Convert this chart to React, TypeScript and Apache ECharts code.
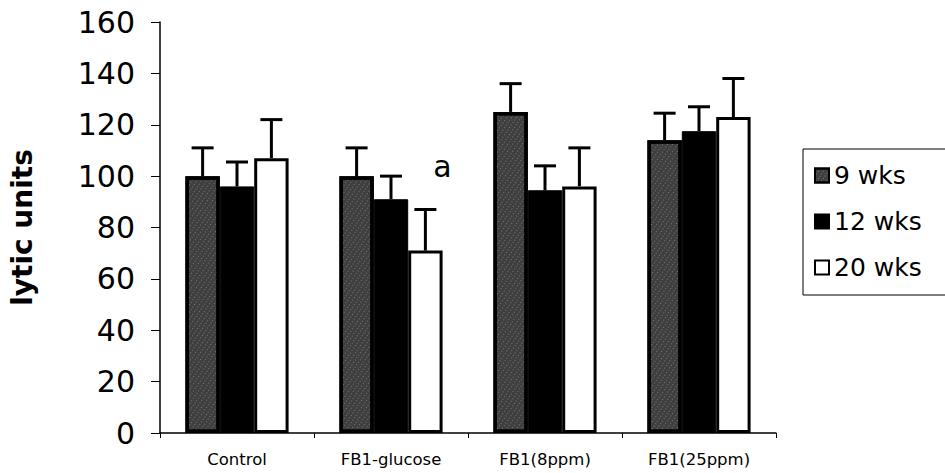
import React, { useEffect, useRef } from 'react';
import * as echarts from 'echarts';

const categories = ['Control', 'FB1-glucose', 'FB1(8ppm)', 'FB1(25ppm)'];
const seriesNames = ['9 wks', '12 wks', '20 wks'];
const means9 = [100, 100, 125, 114];
const means12 = [96, 91, 94.5, 117.5];
const means20 = [107, 71, 96, 123];
const err9 = [11, 11, 11, 10.5];
const err12 = [9.5, 9, 9.5, 9.5];
const err20 = [15, 16, 15, 15];
const yMin = 0;
const yMax = 160;
const yInterval = 20;
const annotations = [{ category: 'FB1-glucose', series: '20 wks', text: 'a' }];

const GAP = 0.33;
const FONT = '"DejaVu Sans", "Liberation Sans", Arial, sans-serif';

export default function App() {
  const ref = useRef<HTMLDivElement>(null);
  useEffect(() => {
    if (!ref.current) return;
    const chart = echarts.init(ref.current, undefined, { renderer: 'svg' });
    const means = [means9, means12, means20];
    const errs = [err9, err12, err20];
    const barStyles = [
      {
        color: '#3f3f3f',
        borderColor: '#000',
        borderWidth: 3.5,
        decal: {
          symbol: 'rect',
          symbolSize: 1,
          color: 'rgba(255,255,255,0.3)',
          dashArrayX: [1, 3],
          dashArrayY: [1, 2],
          rotation: 0.6,
        },
      },
      { color: '#000', borderColor: '#000', borderWidth: 1 },
      { color: '#fff', borderColor: '#000', borderWidth: 3 },
    ];
    const barSeries = seriesNames.map((name, i) => ({
      name,
      type: 'bar',
      data: means[i],
      barGap: '0%',
      barCategoryGap: '33%',
      itemStyle: barStyles[i],
      z: 2,
    }));
    const errSeries = seriesNames.map((name, si) => ({
      name: name + ' err',
      type: 'custom',
      z: 3,
      data: categories.map((c, ci) => [ci, means[si][ci], means[si][ci] + errs[si][ci]]),
      renderItem: (params: any, api: any) => {
        const cat = api.value(0);
        const mean = api.value(1);
        const top = api.value(2);
        const catW = api.size([1, 0])[0];
        const barW = (catW * (1 - GAP)) / 3;
        const cx = api.coord([cat, 0])[0] + (si - 1) * barW;
        const yMean = api.coord([cat, mean])[1];
        const yTop = api.coord([cat, top])[1];
        const st = { stroke: '#000', lineWidth: 3 };
        const children: any[] = [
          { type: 'line', shape: { x1: cx, y1: yMean, x2: cx, y2: yTop }, style: st },
          { type: 'line', shape: { x1: cx - 11, y1: yTop, x2: cx + 11, y2: yTop }, style: st },
        ];
        annotations.forEach((a) => {
          if (a.category === categories[cat] && a.series === name) {
            children.push({
              type: 'text',
              x: cx + 17,
              y: yTop - 43,
              style: {
                text: a.text,
                font: `30px ${FONT}`,
                fill: '#000',
                textAlign: 'center',
                textVerticalAlign: 'middle',
              },
            });
          }
        });
        return { type: 'group', children };
      },
    }));
    chart.setOption({
      animation: false,
      backgroundColor: '#fff',
      grid: { left: 153, right: 169, top: 22, bottom: 40, containLabel: false },
      legend: {
        data: seriesNames,
        orient: 'vertical',
        left: 803,
        top: 149,
        itemWidth: 14,
        itemHeight: 14,
        itemGap: 21,
        padding: [14, 40, 15, 11],
        borderColor: '#000',
        borderWidth: 1,
        textStyle: { fontFamily: FONT, fontSize: 25, color: '#000' },
        icon: 'rect',
      },
      xAxis: {
        type: 'category',
        data: categories,
        axisLine: { lineStyle: { color: '#000', width: 1.5 } },
        axisTick: { show: true, length: 5, lineStyle: { color: '#000' } },
        axisLabel: { fontFamily: FONT, fontSize: 16.5, color: '#000', margin: 18 },
      },
      yAxis: {
        type: 'value',
        min: yMin,
        max: yMax,
        interval: yInterval,
        name: 'lytic units',
        nameLocation: 'middle',
        nameRotate: 90,
        nameGap: 124,
        nameTextStyle: { fontFamily: FONT, fontSize: 28, fontWeight: 'bold', color: '#000' },
        axisLine: { show: true, lineStyle: { color: '#000', width: 1.5 } },
        axisTick: { show: true, length: 9, lineStyle: { color: '#000' } },
        splitLine: { show: false },
        axisLabel: { fontFamily: FONT, fontSize: 30, color: '#000', margin: 25 },
      },
      series: [...barSeries, ...errSeries],
    });
    return () => chart.dispose();
  }, []);
  return (
    <div
      ref={ref}
      style={{ position: 'fixed', left: 0, top: 0, width: 945, height: 473, background: '#fff' }}
    />
  );
}
